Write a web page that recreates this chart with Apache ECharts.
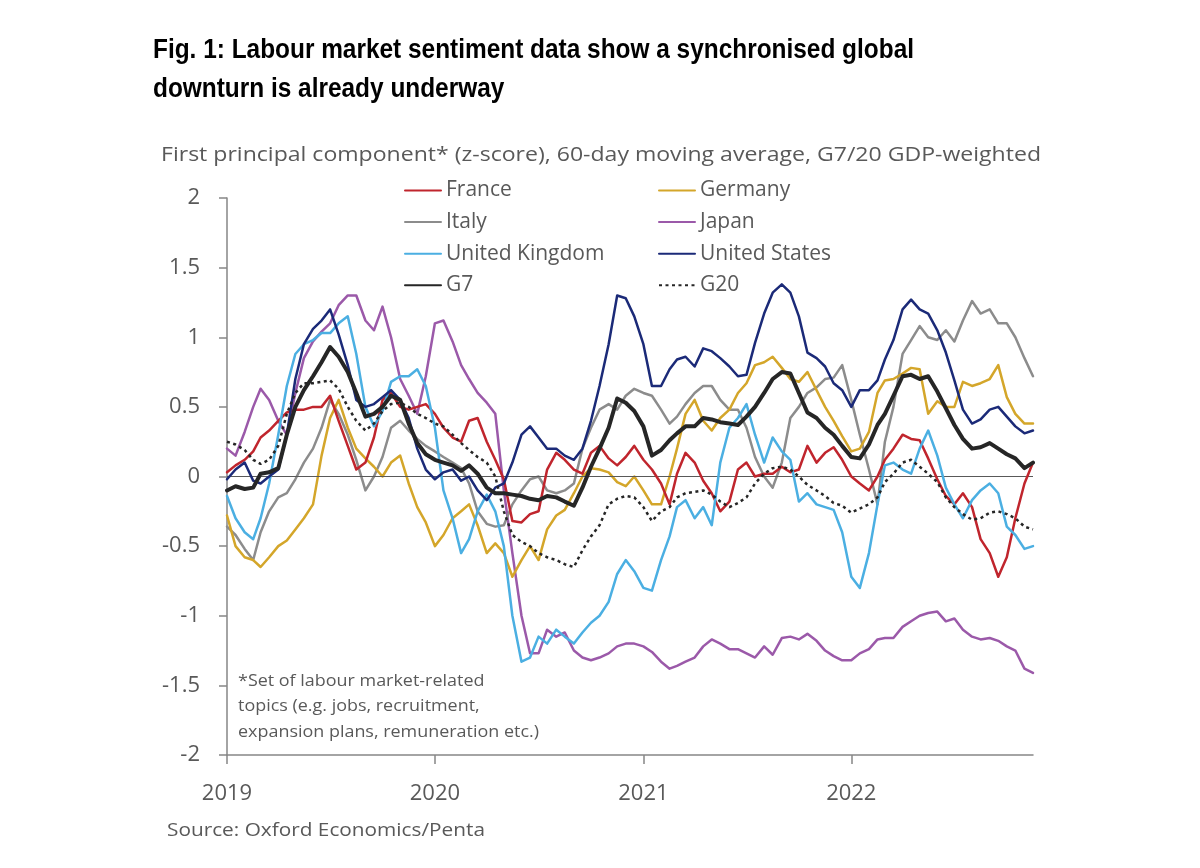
<!DOCTYPE html>
<html>
<head>
<meta charset="utf-8">
<script src="https://cdn.jsdelivr.net/npm/echarts@6/dist/echarts.min.js"></script>
<style>
html,body{margin:0;padding:0;background:#fff;}
#chart{width:1200px;height:868px;}
</style>
</head>
<body>
<div id="chart"></div>
<script>
// ---- Data (semi-monthly readings, 1st and 16th of each month, Jan 2019 - mid Nov 2022) ----
const dates = [];
for (let y = 2019; y <= 2022; y++) {
  for (let m = 0; m < 12; m++) {
    if (y === 2022 && m > 10) break;
    dates.push(new Date(y, m, 1).getTime());
    dates.push(new Date(y, m, 16).getTime());
  }
}

const france = [
  0.03, 0.08, 0.12, 0.18, 0.28, 0.33, 0.40, 0.46, 0.48, 0.48,
  0.50, 0.50, 0.58, 0.40, 0.22, 0.05, 0.10, 0.28, 0.55, 0.60,
  0.50, 0.48, 0.50, 0.52, 0.45, 0.35, 0.28, 0.25, 0.40, 0.42,
  0.25, 0.12, -0.02, -0.32, -0.33, -0.27, -0.25, 0.05, 0.17, 0.12,
  0.05, 0.02, 0.17, 0.22, 0.13, 0.08, 0.14, 0.22, 0.12, 0.05,
  -0.05, -0.20, 0.02, 0.17, 0.10, -0.03, -0.12, -0.25, -0.18, 0.05,
  0.10, 0.00, 0.02, 0.02, 0.07, 0.03, 0.05, 0.22, 0.10, 0.17,
  0.21, 0.12, 0.00, -0.05, -0.10, 0.00, 0.12, 0.20, 0.30, 0.27,
  0.26, 0.13, -0.02, -0.14, -0.20, -0.12, -0.22, -0.45, -0.55, -0.72,
  -0.58, -0.30, -0.05, 0.10
];
const germany = [
  -0.28, -0.50, -0.58, -0.60, -0.65, -0.58, -0.50, -0.46, -0.38, -0.30,
  -0.20, 0.15, 0.42, 0.55, 0.35, 0.20, 0.13, 0.07, 0.00, 0.10,
  0.15, -0.05, -0.22, -0.33, -0.50, -0.42, -0.30, -0.25, -0.20, -0.35,
  -0.55, -0.48, -0.55, -0.72, -0.60, -0.50, -0.60, -0.38, -0.28, -0.24,
  -0.12, 0.00, 0.06, 0.05, 0.03, -0.04, -0.07, 0.00, -0.10, -0.20,
  -0.20, 0.00, 0.20, 0.45, 0.55, 0.40, 0.33, 0.42, 0.48, 0.60,
  0.67, 0.80, 0.82, 0.86, 0.78, 0.70, 0.68, 0.75, 0.62, 0.50,
  0.40, 0.29, 0.18, 0.20, 0.32, 0.60, 0.69, 0.70, 0.74, 0.78,
  0.77, 0.45, 0.54, 0.50, 0.50, 0.68, 0.65, 0.67, 0.70, 0.80,
  0.57, 0.45, 0.38, 0.38
];
const italy = [
  -0.36, -0.42, -0.52, -0.60, -0.40, -0.25, -0.15, -0.12, -0.02, 0.10,
  0.20, 0.35, 0.55, 0.45, 0.30, 0.12, -0.10, 0.00, 0.14, 0.35,
  0.40, 0.33, 0.27, 0.22, 0.18, 0.14, 0.10, 0.06, -0.05, -0.25,
  -0.34, -0.36, -0.35, -0.20, -0.10, -0.02, 0.00, -0.10, -0.12, -0.10,
  -0.05, 0.20, 0.35, 0.48, 0.52, 0.48, 0.58, 0.63, 0.60, 0.58,
  0.48, 0.38, 0.43, 0.52, 0.60, 0.65, 0.65, 0.55, 0.48, 0.48,
  0.35, 0.14, 0.00, -0.08, 0.10, 0.42, 0.50, 0.60, 0.64, 0.70,
  0.71, 0.80, 0.55, 0.30, 0.05, -0.20, 0.25, 0.50, 0.88, 0.98,
  1.08, 1.00, 0.98, 1.05, 0.97, 1.12, 1.26, 1.17, 1.20, 1.10,
  1.10, 1.00, 0.85, 0.72
];
const japan = [
  0.20, 0.15, 0.32, 0.50, 0.63, 0.55, 0.40, 0.30, 0.60, 0.85,
  0.97, 1.04, 1.10, 1.23, 1.30, 1.30, 1.12, 1.05, 1.22, 1.00,
  0.70, 0.58, 0.45, 0.72, 1.10, 1.12, 0.97, 0.80, 0.70, 0.60,
  0.53, 0.45, -0.10, -0.55, -1.00, -1.27, -1.27, -1.10, -1.15, -1.12,
  -1.25, -1.30, -1.32, -1.30, -1.27, -1.22, -1.20, -1.20, -1.22, -1.26,
  -1.33, -1.38, -1.36, -1.33, -1.30, -1.22, -1.17, -1.20, -1.24, -1.24,
  -1.27, -1.30, -1.22, -1.28, -1.16, -1.15, -1.17, -1.13, -1.18, -1.25,
  -1.29, -1.32, -1.32, -1.27, -1.24, -1.17, -1.16, -1.16, -1.08, -1.04,
  -1.00, -0.98, -0.97, -1.04, -1.02, -1.10, -1.15, -1.17, -1.16, -1.18,
  -1.22, -1.25, -1.38, -1.41
];
const unitedKingdom = [
  -0.14, -0.30, -0.40, -0.45, -0.30, -0.05, 0.30, 0.65, 0.88, 0.95,
  0.98, 1.03, 1.03, 1.10, 1.15, 0.88, 0.50, 0.36, 0.47, 0.68,
  0.72, 0.72, 0.77, 0.65, 0.35, -0.10, -0.30, -0.55, -0.45, -0.25,
  -0.13, -0.25, -0.50, -1.00, -1.33, -1.30, -1.15, -1.20, -1.10, -1.15,
  -1.20, -1.12, -1.05, -1.00, -0.90, -0.70, -0.60, -0.68, -0.80, -0.82,
  -0.60, -0.43, -0.22, -0.17, -0.30, -0.22, -0.35, 0.10, 0.35, 0.42,
  0.52, 0.30, 0.10, 0.28, 0.18, 0.12, -0.18, -0.12, -0.20, -0.22,
  -0.24, -0.40, -0.72, -0.80, -0.55, -0.20, 0.08, 0.10, 0.05, 0.02,
  0.20, 0.33, 0.15, -0.08, -0.20, -0.30, -0.17, -0.10, -0.05, -0.12,
  -0.36, -0.42, -0.52, -0.50
];
const unitedStates = [
  -0.02, 0.05, 0.10, -0.03, -0.05, 0.00, 0.05, 0.30, 0.70, 0.95,
  1.06, 1.12, 1.20, 1.02, 0.80, 0.55, 0.50, 0.52, 0.57, 0.62,
  0.55, 0.42, 0.20, 0.05, -0.02, 0.03, 0.05, -0.03, 0.00, -0.10,
  -0.17, -0.08, -0.05, 0.10, 0.30, 0.36, 0.28, 0.20, 0.20, 0.15,
  0.12, 0.20, 0.40, 0.65, 0.95, 1.30, 1.28, 1.15, 0.95, 0.65,
  0.65, 0.77, 0.84, 0.86, 0.79, 0.92, 0.90, 0.85, 0.79, 0.72,
  0.73, 0.96, 1.17, 1.32, 1.38, 1.32, 1.15, 0.89, 0.85, 0.79,
  0.67, 0.62, 0.50, 0.62, 0.62, 0.69, 0.84, 0.98, 1.20, 1.27,
  1.20, 1.17, 1.05, 0.89, 0.69, 0.48, 0.38, 0.41, 0.48, 0.50,
  0.43, 0.36, 0.31, 0.33
];
const g7 = [
  -0.10, -0.07, -0.09, -0.08, 0.02, 0.03, 0.06, 0.30, 0.50, 0.62,
  0.72, 0.82, 0.93, 0.86, 0.75, 0.60, 0.43, 0.45, 0.50, 0.58,
  0.55, 0.38, 0.24, 0.16, 0.12, 0.10, 0.08, 0.04, 0.08, 0.02,
  -0.08, -0.12, -0.12, -0.13, -0.14, -0.16, -0.17, -0.14, -0.15, -0.18,
  -0.21, -0.08, 0.07, 0.20, 0.35, 0.56, 0.53, 0.47, 0.36, 0.15,
  0.19, 0.26, 0.31, 0.36, 0.36, 0.42, 0.41, 0.39, 0.38, 0.37,
  0.43, 0.50, 0.60, 0.70, 0.75, 0.74, 0.60, 0.46, 0.42, 0.35,
  0.30, 0.22, 0.14, 0.13, 0.23, 0.37, 0.45, 0.58, 0.72, 0.73,
  0.70, 0.72, 0.61, 0.49, 0.37, 0.27, 0.20, 0.21, 0.24, 0.20,
  0.16, 0.13, 0.06, 0.10
];
const g20 = [
  0.25, 0.23, 0.19, 0.12, 0.09, 0.12, 0.22, 0.45, 0.60, 0.67,
  0.67, 0.68, 0.69, 0.63, 0.50, 0.40, 0.33, 0.38, 0.47, 0.52,
  0.53, 0.50, 0.45, 0.42, 0.38, 0.36, 0.30, 0.24, 0.19, 0.14,
  0.10, 0.00, -0.25, -0.42, -0.47, -0.50, -0.55, -0.58, -0.60, -0.63,
  -0.65, -0.53, -0.43, -0.35, -0.20, -0.16, -0.14, -0.15, -0.22, -0.32,
  -0.25, -0.22, -0.15, -0.12, -0.11, -0.10, -0.13, -0.18, -0.22, -0.19,
  -0.15, -0.05, 0.02, 0.06, 0.07, 0.05, 0.00, -0.06, -0.10, -0.14,
  -0.19, -0.21, -0.26, -0.23, -0.20, -0.15, -0.04, 0.02, 0.10, 0.12,
  0.07, 0.02, -0.04, -0.15, -0.22, -0.27, -0.31, -0.30, -0.26, -0.25,
  -0.27, -0.30, -0.36, -0.38
];

const yearTicks = [2019, 2020, 2021, 2022];
const titleLines = [
  'Fig. 1: Labour market sentiment data show a synchronised global',
  'downturn is already underway'
];
const subtitleText = 'First principal component* (z-score), 60-day moving average, G7/20 GDP-weighted';
const noteLines = [
  '*Set of labour market-related',
  'topics (e.g. jobs, recruitment,',
  'expansion plans, remuneration etc.)'
];
const sourceText = 'Source: Oxford Economics/Penta';

// ---- helpers ----
const mctx = document.createElement('canvas').getContext('2d');
function textWidth(t, font) { mctx.font = font; return mctx.measureText(t).width; }
function pairs(vals) { return vals.map((v, i) => [dates[i], v]); }
const yearStarts = yearTicks.map(y => new Date(y, 0, 1).getTime());

const GREY = '#595959';
const FONT = "'Open Sans', 'Noto Sans', sans-serif";

const titleFont = "bold 28px 'Liberation Sans', Arial, sans-serif";
const titleScale = 761 / textWidth(titleLines[0], titleFont);
const subFont = "20px " + FONT;
const subScale = 880 / textWidth(subtitleText, subFont);
const noteFont = "17px " + FONT;
const noteScale = 301 / textWidth(noteLines[2], noteFont);
const srcFont = "18px " + FONT;
const srcScale = 318 / textWidth(sourceText, srcFont);

const graphic = [];
titleLines.forEach((t, i) => graphic.push({
  type: 'text', x: 153, y: 50 + i * 39, scaleX: titleScale,
  style: { text: t, font: titleFont, fill: '#000', verticalAlign: 'middle' }
}));
graphic.push({ type: 'text', x: 161, y: 155, scaleX: subScale,
  style: { text: subtitleText, font: subFont, fill: GREY, verticalAlign: 'middle' } });
noteLines.forEach((t, i) => graphic.push({
  type: 'text', x: 238, y: 681 + i * 25.5, scaleX: noteScale,
  style: { text: t, font: noteFont, fill: GREY, verticalAlign: 'middle' }
}));
graphic.push({ type: 'text', x: 167, y: 831, scaleX: srcScale,
  style: { text: sourceText, font: srcFont, fill: GREY, verticalAlign: 'middle' } });

function lineSeries(name, vals, color, width, z, extra) {
  return Object.assign({
    name, type: 'line', data: pairs(vals), symbol: 'none', showSymbol: false,
    smooth: false, z, lineStyle: { color, width, cap: 'round', join: 'round' }, itemStyle: { color }
  }, extra || {});
}

const legendBase = {
  orient: 'vertical', itemWidth: 36, itemHeight: 20, itemGap: 10.6, padding: 0,
  textStyle: { fontSize: 21, color: GREY, fontFamily: FONT },
  itemStyle: { opacity: 0 },
  selectedMode: false
};

const option = {
  animation: false,
  backgroundColor: '#fff',
  textStyle: { fontFamily: FONT },
  graphic,
  legend: [
    Object.assign({ left: 404, top: 180, data: ['France', 'Italy', 'United Kingdom', 'G7'] }, legendBase),
    Object.assign({ left: 658, top: 180, data: ['Germany', 'Japan', 'United States', 'G20'] }, legendBase)
  ],
  grid: { left: 227, right: 167, top: 198, bottom: 113 },
  xAxis: {
    type: 'value',
    min: dates[0], max: dates[dates.length - 1],
    axisLine: { onZero: false, lineStyle: { color: '#868686', width: 1.5 } },
    axisTick: { show: true, length: 9, lineStyle: { color: '#868686', width: 1.5 },
      customValues: yearStarts },
    axisLabel: { fontSize: 22, color: GREY, margin: 28,
      customValues: yearStarts,
      formatter: v => String(new Date(v).getFullYear()) },
    splitLine: { show: false }
  },
  yAxis: {
    type: 'value', min: -2, max: 2, interval: 0.5,
    axisLine: { show: true, lineStyle: { color: '#868686', width: 1.5 } },
    axisTick: { show: true, length: 8, lineStyle: { color: '#868686', width: 1.5 } },
    axisLabel: { fontSize: 22, color: GREY, margin: 27, formatter: v => String(v) },
    splitLine: { show: false }
  },
  series: [
    lineSeries('Japan', japan, '#9B59A9', 2.5, 2, {
      markLine: { silent: true, symbol: 'none', label: { show: false },
        lineStyle: { color: '#595959', width: 1.2, type: 'solid' }, data: [{ yAxis: 0 }] }
    }),
    lineSeries('Italy', italy, '#8C8C8C', 2.5, 3),
    lineSeries('Germany', germany, '#D4A62A', 2.5, 4),
    lineSeries('France', france, '#C0252D', 2.5, 5),
    lineSeries('United Kingdom', unitedKingdom, '#4BAFE2', 2.5, 6),
    lineSeries('United States', unitedStates, '#1B2A78', 2.5, 7),
    lineSeries('G20', g20, '#262626', 2.5, 8, { lineStyle: { color: '#262626', width: 2.5, type: [3, 3.5] } }),
    lineSeries('G7', g7, '#262626', 4, 9)
  ]
};

const chart = echarts.init(document.getElementById('chart'), null, { renderer: 'canvas' });
chart.setOption(option);
</script>
</body>
</html>
